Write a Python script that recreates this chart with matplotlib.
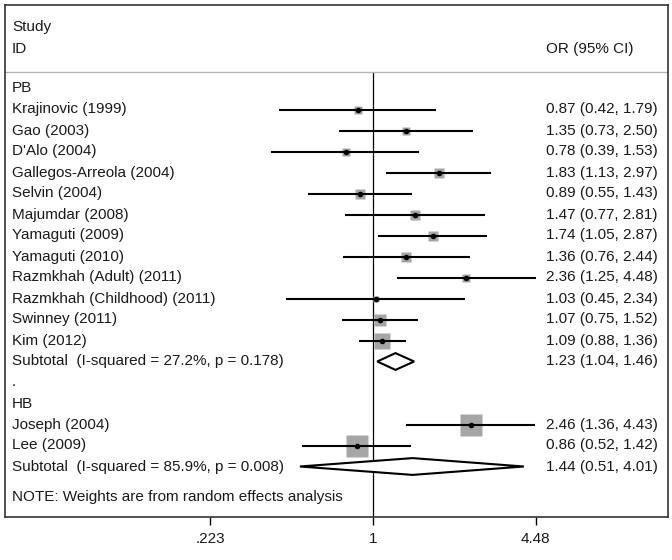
import numpy as np
import matplotlib
matplotlib.use("Agg")
import matplotlib.pyplot as plt
from matplotlib.patches import Polygon

plt.rcParams['font.family'] = ['Liberation Sans', 'DejaVu Sans']

# ---- data ----
pb_studies = ["Krajinovic (1999)", "Gao (2003)", "D'Alo (2004)", "Gallegos-Arreola (2004)",
              "Selvin (2004)", "Majumdar (2008)", "Yamaguti (2009)", "Yamaguti (2010)",
              "Razmkhah (Adult) (2011)", "Razmkhah (Childhood) (2011)", "Swinney (2011)", "Kim (2012)"]
pb_or = [0.87, 1.35, 0.78, 1.83, 0.89, 1.47, 1.74, 1.36, 2.36, 1.03, 1.07, 1.09]
pb_lo = [0.42, 0.73, 0.39, 1.13, 0.55, 0.77, 1.05, 0.76, 1.25, 0.45, 0.75, 0.88]
pb_hi = [1.79, 2.50, 1.53, 2.97, 1.43, 2.81, 2.87, 2.44, 4.48, 2.34, 1.52, 1.36]
pb_weights = [6.0, 6.0, 6.8, 9.5, 9.5, 8.5, 10.4, 8.5, 6.1, 2.4, 13.6, 24.0]
pb_subtotal = (1.23, 1.04, 1.46)
pb_subtotal_label = "Subtotal  (I-squared = 27.2%, p = 0.178)"

hb_studies = ["Joseph (2004)", "Lee (2009)"]
hb_or = [2.46, 0.86]
hb_lo = [1.36, 0.52]
hb_hi = [4.43, 1.42]
hb_weights = [50.0, 50.0]
hb_subtotal = (1.44, 0.51, 4.01)
hb_subtotal_label = "Subtotal  (I-squared = 85.9%, p = 0.008)"

tick_values = [0.223, 1, 4.48]
tick_labels = [".223", "1", "4.48"]
note_text = "NOTE: Weights are from random effects analysis"

# ---- figure ----
W, H, DPI = 672, 560, 100
fig = plt.figure(figsize=(W / DPI, H / DPI), dpi=DPI)
px_l, px_r, px_t, px_b = 5, 668, 5, 517
ax = fig.add_axes([px_l / W, 1 - px_b / H, (px_r - px_l) / W, (px_b - px_t) / H])

null_px = 373.0
px_per_ln = 108.6
ax.set_xscale('log')
ax.set_xlim(np.exp((px_l - null_px) / px_per_ln), np.exp((px_r - null_px) / px_per_ln))

row0_px, row_h = 88.5, 21.0
def r2y(px):
    return (px - row0_px) / row_h
ax.set_ylim(r2y(px_b), r2y(px_t))

fs = 11
x_left = (12 - px_l) / (px_r - px_l)
x_right = (546 - px_l) / (px_r - px_l)
tl = ax.get_yaxis_transform()  # x axes-frac, y data
txt_color = '#1a1a1a'

def ltext(y, s):
    ax.text(x_left, y, s, transform=tl, ha='left', va='center', fontsize=fs, color=txt_color)

def rtext(y, s):
    ax.text(x_right, y, s, transform=tl, ha='left', va='center', fontsize=fs, color=txt_color)

def fmt(o, l, h):
    return f"{o:.2f} ({l:.2f}, {h:.2f})"

header_y = r2y(72)
ltext(r2y(27), "Study")
ltext(r2y(49), "ID")
rtext(r2y(49), "OR (95% CI)")
ax.axhline(header_y, color='#b5b5b5', lw=1.0)
ax.vlines(1, header_y, r2y(px_b), color='black', lw=0.9, zorder=1)

box_px_per_sqrtw = 3.25
def draw_study(y, name, o, l, h, w):
    ltext(y, name)
    rtext(y, fmt(o, l, h))
    ax.plot([l, h], [y, y], color='black', lw=1.5, solid_capstyle='butt', zorder=2)
    side_pt = box_px_per_sqrtw * np.sqrt(w) * 72 / DPI
    ax.plot([o], [y], marker='s', ms=side_pt, mfc='#a6a6a6', mec='none', zorder=1.5)
    ax.plot([o], [y], marker='o', ms=3.0, mfc='black', mec='black', zorder=3)

def draw_diamond(y, label, vals, half_h=0.4):
    o, l, h = vals
    ltext(y, label)
    rtext(y, fmt(o, l, h))
    poly = Polygon([(l, y), (o, y - half_h), (h, y), (o, y + half_h)], closed=True,
                   facecolor='white', edgecolor='black', lw=1.5, zorder=4)
    ax.add_patch(poly)

y = 0
ltext(y, "PB")
for i, name in enumerate(pb_studies):
    y += 1
    draw_study(y, name, pb_or[i], pb_lo[i], pb_hi[i], pb_weights[i])
y += 1
draw_diamond(y, pb_subtotal_label, pb_subtotal)
y += 1
ltext(y, ".")
y += 1
ltext(y, "HB")
for i, name in enumerate(hb_studies):
    y += 1
    draw_study(y, name, hb_or[i], hb_lo[i], hb_hi[i], hb_weights[i])
y += 1
draw_diamond(y, hb_subtotal_label, hb_subtotal)
ltext(r2y(497), note_text)

ax.set_xticks(tick_values)
ax.set_xticklabels(tick_labels, fontsize=fs, color=txt_color)
ax.xaxis.set_minor_locator(matplotlib.ticker.NullLocator())
ax.set_yticks([])
ax.tick_params(axis='x', direction='out', length=6, width=1, pad=5)
for s in ax.spines.values():
    s.set_linewidth(1.2)
    s.set_color('#333333')

fig.savefig("out.png", dpi=DPI)
